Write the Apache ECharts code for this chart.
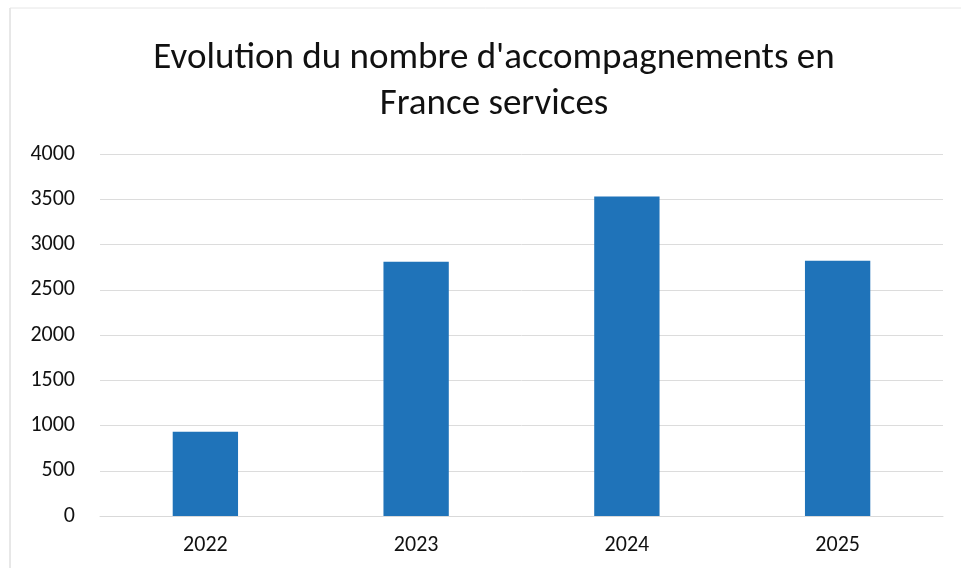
<!DOCTYPE html>
<html><head><meta charset="utf-8">
<script src="https://cdn.jsdelivr.net/npm/echarts@6/dist/echarts.min.js"></script>
<style>html,body{margin:0;padding:0;background:#fff}#c{width:961px;height:568px}</style>
</head><body><div id="c"></div>
<script>
const titleText = "Evolution du nombre d'accompagnements en\nFrance services";
const categories = ["2022", "2023", "2024", "2025"];
const values = [930, 2810, 3530, 2820];
const yMin = 0, yMax = 4000, yStep = 500;

const font = "Carlito, Lato, 'Open Sans', sans-serif";
const chart = echarts.init(document.getElementById('c'));
chart.setOption({
  animation: false,
  backgroundColor: '#fff',
  title: {
    text: titleText,
    left: 489, top: 31, textAlign: 'center',
    textStyle: {fontFamily: font, fontSize: 37, fontWeight: 'normal', color: '#111', lineHeight: 46}
  },
  grid: {left: 100, right: 18, top: 154, bottom: 52},
  xAxis: {
    type: 'category', data: categories,
    axisLine: {show: true, lineStyle: {color: '#d9d9d9'}},
    axisTick: {show: false},
    axisLabel: {fontFamily: font, fontSize: 22, color: '#111', margin: 18}
  },
  yAxis: {
    type: 'value', min: yMin, max: yMax, interval: yStep,
    axisLine: {show: false}, axisTick: {show: false},
    splitLine: {lineStyle: {color: '#dcdcdc'}},
    axisLabel: {fontFamily: font, fontSize: 22, color: '#111', margin: 25,
      formatter: v => String(v)}
  },
  series: [{
    type: 'bar', data: values, barWidth: '31%',
    itemStyle: {color: '#1F73B9'}
  }],
  graphic: [
    {type: 'line', shape: {x1: 10, y1: 8, x2: 10, y2: 568}, style: {stroke: '#d0d0d0', lineWidth: 1}},
    {type: 'line', shape: {x1: 10, y1: 8, x2: 961, y2: 8}, style: {stroke: '#e6e6e6', lineWidth: 1}}
  ]
});
</script></body></html>
